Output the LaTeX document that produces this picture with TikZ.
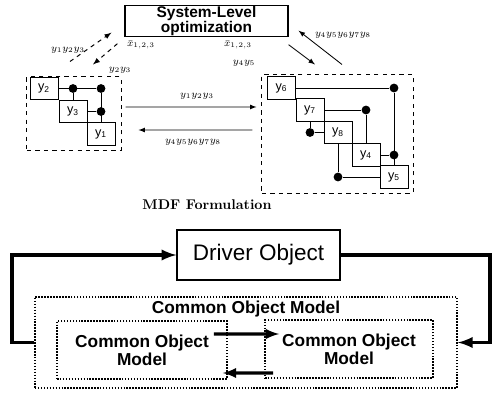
\documentclass[tikz,border=0pt]{standalone}
\usepackage{fontspec}
\setsansfont{Liberation Sans}
\usetikzlibrary{positioning}
\tikzset{
    bloque/.style={draw, fill=white, line width=0.6pt, minimum width=0.7cm,
        minimum height=0.56cm, inner sep=0pt, font=\sffamily\small},
    nudo/.style={circle, fill, inner sep=0pt, minimum size=0.22cm},
    grupo/.style={draw, dashed, line width=0.7pt, inner sep=0pt},
    caja/.style={draw, line width=0.8pt, inner sep=0pt},
    punteado/.style={draw, densely dotted, line width=1.1pt, inner sep=0pt},
    lazo/.style={line width=2.6pt},
    etiqueta/.style={font=\scriptsize, inner sep=1pt}
}
\begin{document}
\begin{tikzpicture}[x=0.025cm, y=-0.025cm, >=latex]
    \useasboundingbox (0,0) rectangle (492,393);
    % Nivel de sistema
    \node[caja, minimum width=4.075cm, minimum height=0.7cm, align=center,
        font=\sffamily\bfseries\fontsize{11}{10}\selectfont] (sys) at (206.5,21)
        {System-Level\\optimization};
    % Grupos
    \node[grupo, minimum width=2.35cm, minimum height=1.825cm] (grpl) at (74,113.5) {};
    \node[grupo, minimum width=3.775cm, minimum height=2.95cm] (grpr) at (337.5,134) {};
    % Bloques izquierda
    \node[bloque] (y2) at (44,88.5) {y\textsubscript{2}};
    \node[bloque] (y3) at (73,111.5) {y\textsubscript{3}};
    \node[bloque] (y1) at (101,134) {y\textsubscript{1}};
    \node[nudo] (da) at (73,88.5) {};
    \node[nudo] (db) at (101,88.5) {};
    \node[nudo] (dc) at (101,111.5) {};
    \draw[line width=0.6pt] (y2.east) -- (db) -- (y1.north);
    \draw[line width=0.6pt] (da) -- (y3.north);
    \draw[line width=0.6pt] (y3.east) -- (dc);
    % Bloques derecha
    \node[bloque] (y6) at (281.5,88) {y\textsubscript{6}};
    \node[bloque] (y7) at (310,110) {y\textsubscript{7}};
    \node[bloque] (y8) at (338,132.5) {y\textsubscript{8}};
    \node[bloque] (y4) at (366,155) {y\textsubscript{4}};
    \node[bloque] (y5) at (394,177) {y\textsubscript{5}};
    \node[nudo] (e1) at (394,88) {};
    \node[nudo] (e2) at (394,155) {};
    \node[nudo] (e3) at (366,110) {};
    \node[nudo] (e4) at (310,132.5) {};
    \node[nudo] (e5) at (338,177) {};
    \draw[line width=0.6pt] (y6.east) -- (e1) -- (y5.north);
    \draw[line width=0.6pt] (y4.east) -- (e2);
    \draw[line width=0.6pt] (y7.east) -- (e3) -- (y4.north);
    \draw[line width=0.6pt] (y7.south) -- (e4) -- (y8.west);
    \draw[line width=0.6pt] (y8.south) -- (e5) -- (y5.west);
    % Flechas hacia el sistema
    \draw[->, dashed, line width=0.7pt]
        ([xshift=-0.1cm, yshift=0.375cm]grpl.north) -- ([xshift=-0.325cm, yshift=0.1cm]sys.south west);
    \draw[->, dashed, line width=0.7pt]
        ([xshift=-0.175cm, yshift=-0.175cm]sys.south west) -- ([xshift=0.475cm, yshift=0.3cm]grpl.north);
    \draw[->, line width=0.6pt]
        ([xshift=0.1125cm, yshift=0.25cm]grpr.north) -- ([xshift=0.25cm, yshift=0.15cm]sys.south east);
    \draw[->, line width=0.6pt]
        ([yshift=-0.2cm]sys.south east) -- ([xshift=-0.5625cm, yshift=0.25cm]grpr.north);
    % Flechas entre grupos
    \draw[->, line width=0.6pt]
        ([xshift=0.1cm, yshift=0.1625cm]grpl.east) -- ([xshift=-0.125cm, yshift=0.675cm]grpr.west);
    \draw[->, line width=0.6pt]
        ([xshift=-0.225cm, yshift=0.1cm]grpr.west) -- ([xshift=0.425cm, yshift=-0.4125cm]grpl.east);
    % Etiquetas
    \node[etiqueta] (la) at (68,50) {$y_1y_2y_3$};
    \node[etiqueta] (lb) at (141,45) {$\bar{x}_{1,2,3}$};
    \node[etiqueta] (lc) at (120,70) {$y_2y_3$};
    \node[etiqueta] (ld) at (343,35) {$y_4y_5y_6y_7y_8$};
    \node[etiqueta] (le) at (238,45) {$\bar{x}_{1,2,3}$};
    \node[etiqueta] (lf) at (244,63) {$y_4y_5$};
    \node[etiqueta] (lg) at (197,96) {$y_1y_2y_3$};
    \node[etiqueta] (lh) at (193,142) {$y_4y_5y_6y_7y_8$};
    \node[font=\bfseries] (mdf) at (207,205) {MDF Formulation};
    % Modelo de objetos
    \node[caja, minimum width=4.075cm, minimum height=1.25cm,
        font=\sffamily\fontsize{16}{19}\selectfont] (drv) at (258.5,255) {Driver Object};
    \node[punteado, minimum width=10.55cm, minimum height=2.275cm] (com) at (246,342.5) {};
    \node[font=\sffamily\bfseries\fontsize{12.3}{14}\selectfont] (comt) at (246,309)
        {Common Object Model};
    \node[punteado, minimum width=4.25cm, minimum height=1.45cm, align=center,
        font=\sffamily\bfseries\fontsize{12.3}{13}\selectfont] (coml) at (142,350)
        {Common Object\\Model};
    \node[punteado, minimum width=4.2cm, minimum height=1.45cm, align=center,
        font=\sffamily\bfseries\fontsize{12.3}{13}\selectfont] (comr) at (349,349)
        {Common Object\\Model};
    \draw[-latex, line width=2.2pt]
        ([xshift=-0.35cm, yshift=0.4cm]coml.east) -- ([xshift=0.375cm, yshift=0.375cm]comr.west);
    \draw[-latex, line width=2.2pt]
        ([xshift=0.225cm, yshift=-0.6cm]comr.west) -- ([xshift=-0.125cm, yshift=-0.575cm]coml.east);
    % Lazo
    \coordinate (rc) at (490,0);
    \coordinate (lc) at (12,0);
    \draw[lazo, -latex] (drv.east) -- (drv.east -| rc) -- (com.east -| rc) -- (com.east);
    \draw[lazo, -latex] (com.west) -- (com.west -| lc) -- (drv.west -| lc) -- (drv.west);
\end{tikzpicture}
\end{document}
